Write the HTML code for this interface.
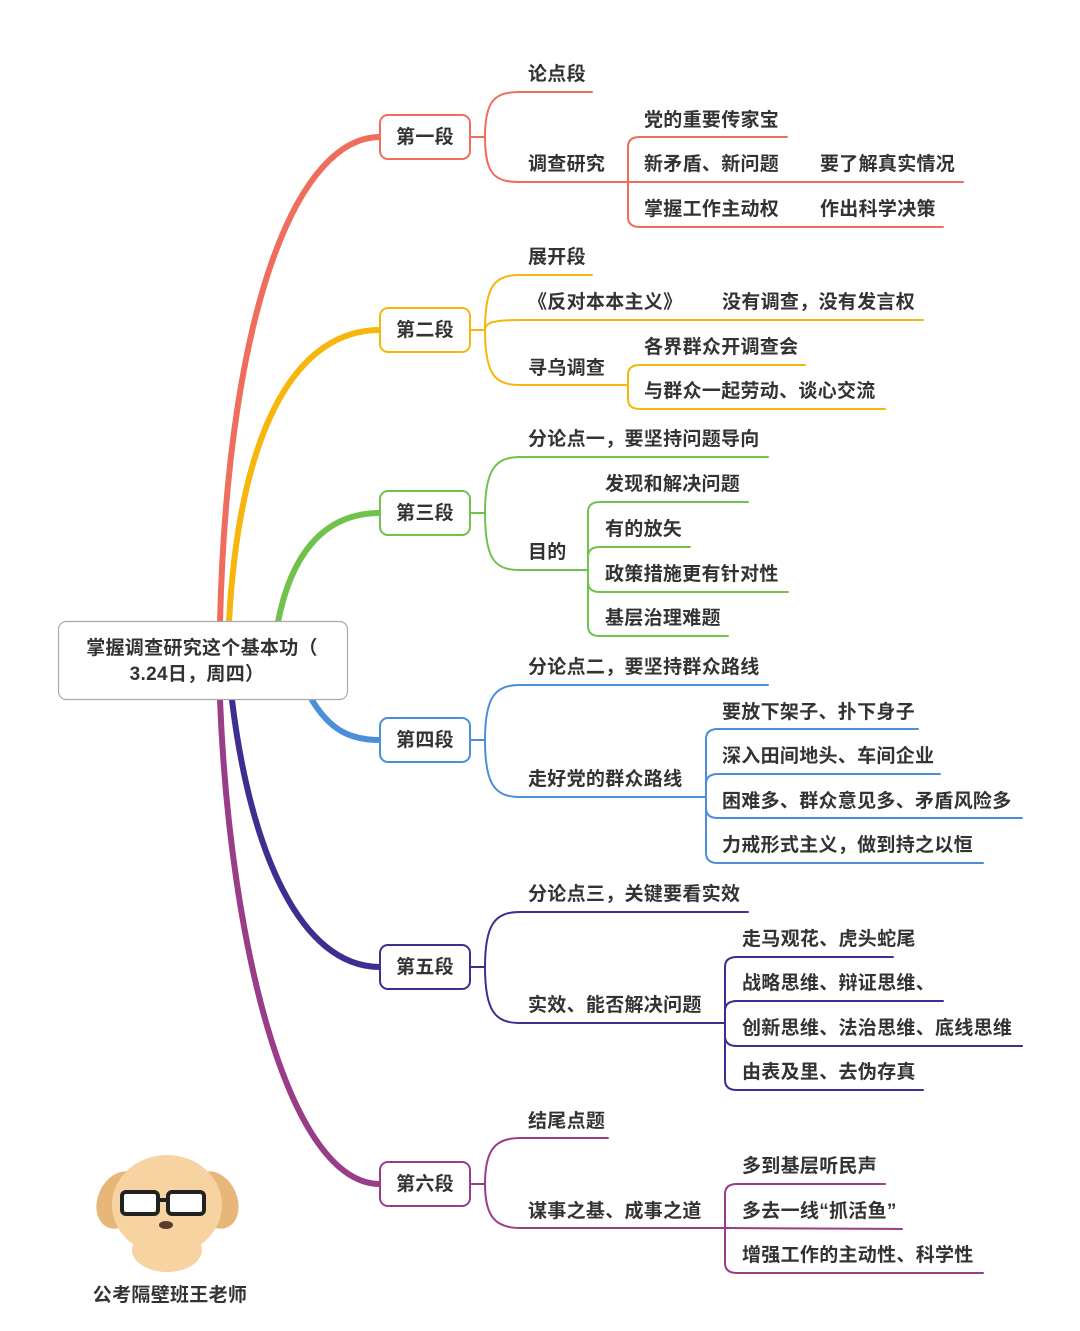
<!DOCTYPE html>
<html><head><meta charset="utf-8"><style>
body{margin:0;background:#fff;}
svg{display:block;}
text{font-family:"Liberation Sans","Noto Sans CJK SC",sans-serif;font-weight:bold;font-size:19px;fill:#333;letter-spacing:0.3px;}
</style></head><body>
<svg width="1080" height="1331" viewBox="0 0 1080 1331" xmlns="http://www.w3.org/2000/svg">
<g fill="none" stroke-linecap="round">
<path d="M220,622 C228,300 300,137 380,137" stroke="#ef6d5c" stroke-width="6"/>
<path d="M229,622 C240,420 300,330 380,330" stroke="#f6b60c" stroke-width="6"/>
<path d="M278,622 C290,560 320,513 380,513" stroke="#70c24d" stroke-width="6"/>
<path d="M312,700 C330,730 350,740 380,740" stroke="#4a8fd8" stroke-width="6"/>
<path d="M232,700 C250,850 300,967 380,967" stroke="#3d2e8f" stroke-width="6"/>
<path d="M220,700 C230,950 290,1184 380,1184" stroke="#9a3d88" stroke-width="6"/>

<g stroke="#ef6d5c" stroke-width="2">
<path d="M470,137 L485,137"/>
<path d="M485,137 C485,100 495,92 520,92 L592,92"/>
<path d="M485,137 C485,175 495,182 520,182 L963,182"/>
<path d="M628,182 L628,147 Q628,137 640,137 L787,137"/>
<path d="M628,182 L628,217 Q628,227 640,227 L943,227"/>
</g>
<g stroke="#f6b60c" stroke-width="2">
<path d="M470,330 L485,330"/>
<path d="M485,330 C485,285 495,275 520,275 L592,275"/>
<path d="M485,330 C485,322 495,320 520,320 L923,320"/>
<path d="M485,330 C485,375 495,385 520,385 L628,385"/>
<path d="M628,385 L628,375 Q628,365 640,365 L805,365"/>
<path d="M628,385 L628,399 Q628,409 640,409 L885,409"/>
</g>
<g stroke="#70c24d" stroke-width="2">
<path d="M470,513 L485,513"/>
<path d="M485,513 C485,470 495,457 520,457 L768,457"/>
<path d="M485,513 C485,560 495,570 520,570 L588,570"/>
<path d="M588,570 L588,512 Q588,502 600,502 L748,502"/>
<path d="M588,570 L588,557 Q588,547 600,547 L690,547"/>
<path d="M588,570 L588,582 Q588,592 600,592 L788,592"/>
<path d="M588,570 L588,626 Q588,636 600,636 L728,636"/>
</g>
<g stroke="#4a8fd8" stroke-width="2">
<path d="M470,740 L485,740"/>
<path d="M485,740 C485,697 495,685 520,685 L768,685"/>
<path d="M485,740 C485,785 495,797 520,797 L706,797"/>
<path d="M706,797 L706,739 Q706,729 718,729 L918,729"/>
<path d="M706,797 L706,784 Q706,774 718,774 L940,774"/>
<path d="M706,797 L706,808 Q706,818 718,818 L1022,818"/>
<path d="M706,797 L706,853 Q706,863 718,863 L983,863"/>
</g>
<g stroke="#3d2e8f" stroke-width="2">
<path d="M470,967 L485,967"/>
<path d="M485,967 C485,924 495,912 520,912 L748,912"/>
<path d="M485,967 C485,1011 495,1023 520,1023 L725,1023"/>
<path d="M725,1023 L725,967 Q725,957 737,957 L893,957"/>
<path d="M725,1023 L725,1011 Q725,1001 737,1001 L943,1001"/>
<path d="M725,1023 L725,1036 Q725,1046 737,1046 L1022,1046"/>
<path d="M725,1023 L725,1080 Q725,1090 737,1090 L923,1090"/>
</g>
<g stroke="#9a3d88" stroke-width="2">
<path d="M470,1184 L485,1184"/>
<path d="M485,1184 C485,1150 495,1138 520,1138 L608,1138"/>
<path d="M485,1184 C485,1216 495,1228 520,1228 L725,1228"/>
<path d="M725,1228 L725,1194 Q725,1184 737,1184 L885,1184"/>
<path d="M725,1228 L902,1229"/>
<path d="M725,1228 L725,1263 Q725,1273 737,1273 L983,1273"/>
</g>
</g>

<rect x="58.5" y="621.5" width="289" height="78" rx="8" fill="#fff" stroke="#aaa" stroke-width="1.2"/>
<text x="202" y="654" text-anchor="middle">掌握调查研究这个基本功（</text>
<text x="197" y="680" text-anchor="middle">3.24日，周四）</text>

<g fill="#fff" stroke-width="2">
<rect x="380" y="115" width="90" height="44" rx="8" stroke="#ef6d5c"/>
<rect x="380" y="308" width="90" height="44" rx="8" stroke="#f6b60c"/>
<rect x="380" y="491" width="90" height="44" rx="8" stroke="#70c24d"/>
<rect x="380" y="718" width="90" height="44" rx="8" stroke="#4a8fd8"/>
<rect x="380" y="945" width="90" height="44" rx="8" stroke="#3d2e8f"/>
<rect x="380" y="1162" width="90" height="44" rx="8" stroke="#9a3d88"/>
</g>
<g text-anchor="middle">
<text x="425" y="143">第一段</text>
<text x="425" y="336">第二段</text>
<text x="425" y="519">第三段</text>
<text x="425" y="746">第四段</text>
<text x="425" y="973">第五段</text>
<text x="425" y="1190">第六段</text>
</g>

<text x="528" y="80">论点段</text>
<text x="528" y="170">调查研究</text>
<text x="644" y="126">党的重要传家宝</text>
<text x="644" y="170">新矛盾、新问题</text>
<text x="820" y="170">要了解真实情况</text>
<text x="644" y="215">掌握工作主动权</text>
<text x="820" y="215">作出科学决策</text>

<text x="528" y="263">展开段</text>
<text x="528" y="308">《反对本本主义》</text>
<text x="722" y="308">没有调查，没有发言权</text>
<text x="528" y="374">寻乌调查</text>
<text x="644" y="353">各界群众开调查会</text>
<text x="644" y="397">与群众一起劳动、谈心交流</text>

<text x="528" y="445">分论点一，要坚持问题导向</text>
<text x="528" y="558">目的</text>
<text x="605" y="490">发现和解决问题</text>
<text x="605" y="535">有的放矢</text>
<text x="605" y="580">政策措施更有针对性</text>
<text x="605" y="624">基层治理难题</text>

<text x="528" y="673">分论点二，要坚持群众路线</text>
<text x="528" y="785">走好党的群众路线</text>
<text x="722" y="718">要放下架子、扑下身子</text>
<text x="722" y="762">深入田间地头、车间企业</text>
<text x="722" y="807">困难多、群众意见多、矛盾风险多</text>
<text x="722" y="851">力戒形式主义，做到持之以恒</text>

<text x="528" y="900">分论点三，关键要看实效</text>
<text x="528" y="1011">实效、能否解决问题</text>
<text x="742" y="945">走马观花、虎头蛇尾</text>
<text x="742" y="989">战略思维、辩证思维、</text>
<text x="742" y="1034">创新思维、法治思维、底线思维</text>
<text x="742" y="1078">由表及里、去伪存真</text>

<text x="528" y="1127">结尾点题</text>
<text x="528" y="1217">谋事之基、成事之道</text>
<text x="742" y="1172">多到基层听民声</text>
<text x="742" y="1217">多去一线“抓活鱼”</text>
<text x="742" y="1261">增强工作的主动性、科学性</text>

<g>
<ellipse cx="120" cy="1200" rx="22" ry="30" fill="#e7b77a" transform="rotate(25 120 1200)"/>
<ellipse cx="215" cy="1200" rx="22" ry="30" fill="#e7b77a" transform="rotate(-25 215 1200)"/>
<ellipse cx="167" cy="1205" rx="55" ry="50" fill="#f6d3a0"/>
<ellipse cx="167" cy="1250" rx="35" ry="22" fill="#f6d3a0"/>
<rect x="122" y="1192" width="36" height="22" rx="4" fill="#fff" stroke="#222" stroke-width="4"/>
<rect x="168" y="1192" width="36" height="22" rx="4" fill="#fff" stroke="#222" stroke-width="4"/>
<line x1="158" y1="1200" x2="168" y2="1200" stroke="#222" stroke-width="4"/>
<ellipse cx="166" cy="1225" rx="7" ry="4" fill="#5a3a2a"/>
</g>
<text x="170" y="1301" text-anchor="middle">公考隔壁班王老师</text>
</svg>
</body></html>
